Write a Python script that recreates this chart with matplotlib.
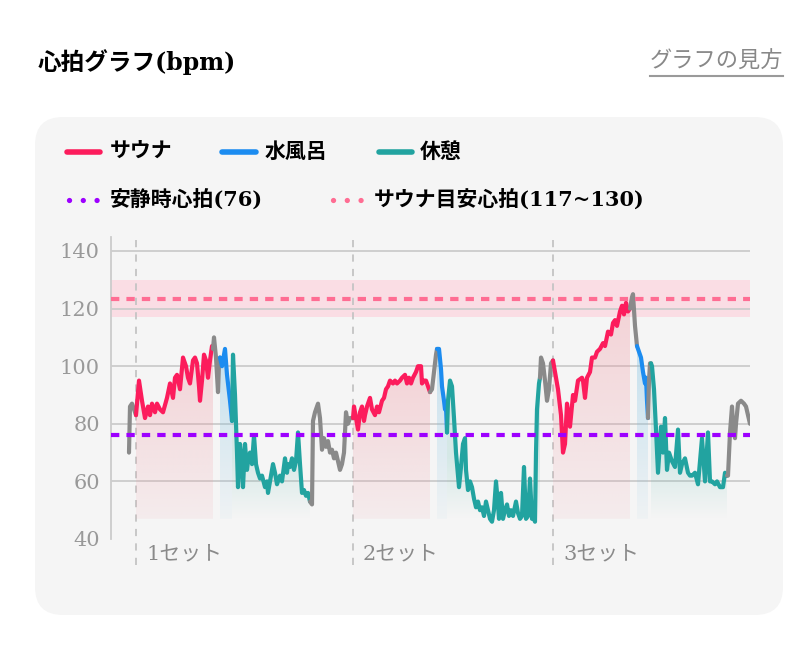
import numpy as np
import matplotlib.pyplot as plt
import matplotlib.transforms as mtransforms
from matplotlib.patches import FancyBboxPatch, PathPatch
from matplotlib.lines import Line2D
from matplotlib.colors import to_rgb

# 心拍データ (time = 経過時間の目盛り, bpm)
time = [18, 19, 21, 23, 25, 28, 31, 34, 37, 39, 41, 44, 46, 49, 52, 56, 59, 62, 64, 66,
        69, 72, 75, 77, 79, 82, 84, 86, 88, 89, 91, 93, 95, 97, 99, 101, 102, 103, 105, 107,
        108, 109, 111, 114, 116, 119, 121, 122, 124, 126, 127, 129, 131, 132, 134, 136, 137, 139, 141, 143,
        145, 147, 149, 151, 154, 156, 157, 159, 162, 164, 166, 169, 171, 174, 176, 177, 179, 181, 183, 185,
        187, 189, 191, 193, 195, 197, 199, 201, 202, 204, 207, 209, 211, 213, 215, 217, 219, 221, 223, 225,
        227, 229, 231, 233, 235, 237, 239, 242, 243, 245, 247, 249, 251, 253, 254, 256, 259, 261, 264, 266,
        268, 271, 273, 275, 277, 279, 282, 284, 286, 289, 291, 294, 296, 298, 300, 302, 305, 307, 310, 311,
        313, 315, 317, 319, 321, 323, 325, 326, 328, 330, 331, 333, 334, 335, 336, 337, 339, 341, 343, 345,
        347, 348, 350, 352, 354, 355, 357, 359, 361, 363, 365, 367, 369, 371, 373, 375, 377, 379, 381, 383,
        385, 387, 388, 390, 392, 394, 396, 398, 400, 402, 405, 407, 409, 411, 413, 415, 417, 419, 421, 423,
        424, 425, 426, 428, 429, 430, 432, 434, 436, 438, 440, 442, 447, 450, 452, 454, 456, 459, 462, 464,
        467, 471, 472, 474, 476, 479, 481, 484, 486, 489, 492, 494, 497, 500, 502, 504, 506, 509, 511, 513,
        515, 517, 519, 521, 522, 524, 526, 528, 530, 532, 534, 535, 536, 537, 538, 539, 540, 541, 543, 545,
        547, 550, 552, 554, 556, 558, 561, 564, 567, 569, 571, 574, 577, 579, 581, 584, 587, 591, 594, 597,
        599, 601, 604, 606, 609, 612, 614, 616, 617, 619, 621, 622, 624, 625, 627, 630, 633, 635, 637, 639]
bpm = [70, 86, 87, 85, 83, 95, 88, 82, 86, 83, 87, 84, 87, 85, 84, 89, 94, 89, 96, 97,
       92, 103, 100, 96, 94, 102, 103, 101, 93, 88, 95, 104, 102, 96, 102, 107, 106, 110, 103, 91,
       101, 103, 100, 106, 97, 88, 81, 104, 90, 70, 58, 73, 66, 58, 73, 64, 67, 70, 66, 76,
       66, 63, 61, 62, 58, 60, 56, 60, 66, 63, 59, 62, 60, 68, 63, 66, 65, 68, 64, 67,
       77, 66, 56, 57, 55, 56, 53, 52, 81, 84, 87, 82, 71, 75, 72, 74, 70, 71, 68, 70,
       67, 64, 66, 70, 84, 80, 82, 82, 86, 82, 78, 84, 86, 81, 83, 86, 89, 85, 83, 86,
       84, 88, 89, 92, 93, 95, 94, 95, 94, 95, 96, 97, 94, 96, 94, 96, 98, 100, 100, 94,
       95, 95, 93, 91, 92, 98, 104, 106, 106, 99, 93, 88, 85, 86, 77, 88, 95, 93, 82, 70,
       62, 58, 65, 73, 75, 64, 57, 60, 58, 54, 51, 53, 50, 51, 48, 53, 50, 47, 46, 50,
       60, 52, 47, 56, 47, 50, 52, 48, 50, 48, 53, 49, 47, 48, 65, 47, 48, 61, 47, 47,
       46, 70, 85, 94, 96, 103, 101, 95, 88, 92, 101, 102, 92, 83, 70, 73, 87, 79, 90, 88,
       95, 96, 95, 89, 96, 98, 103, 103, 105, 106, 108, 107, 112, 111, 115, 116, 114, 119, 121, 118,
       122, 119, 120, 124, 125, 114, 107, 105, 103, 98, 94, 96, 88, 82, 95, 101, 101, 100, 92, 78,
       63, 79, 70, 82, 64, 70, 67, 65, 78, 63, 66, 68, 63, 62, 62, 63, 59, 75, 60, 77,
       60, 60, 59, 60, 58, 58, 63, 62, 62, 77, 86, 80, 75, 80, 87, 88, 87, 86, 83, 80]

# 区間の切り替わり
phase_t = [18, 25, 102, 109, 121, 199, 242, 319, 326, 336, 429, 442, 519, 526, 537, 540, 616, 639]
phase_kind = ['other', 'sauna', 'other', 'water', 'rest', 'other', 'sauna', 'other', 'water',
              'rest', 'other', 'sauna', 'other', 'water', 'other', 'rest', 'other']

set_starts = [25, 242, 442]
set_labels = ['1セット', '2セット', '3セット']

rest_hr = 76
sauna_lo, sauna_hi = 117, 130

colors = {'sauna': '#fc1c5c', 'water': '#1c8cf0', 'rest': '#22a3a0', 'other': '#8a8a8a'}
fills = {'sauna': ('#f096a0', 0.10, 0.36, None),
         'water': ('#78bee1', 0.05, 0.38, None),
         'rest': ('#64beb4', 0.0, 0.22, 68)}

JP = ['DejaVu Serif', 'Noto Sans CJK JP']
W, H = 800, 664


def fx(px):
    return px / W


def fy(py):
    return 1 - py / H


def grad_fill(ax, t, y, color, a_bot, a_top, top=None, bottom=47):
    ymax = max(y)
    if top is None:
        top = ymax
    poly = ax.fill_between(t, y, bottom, facecolor='none', edgecolor='none')
    clip = PathPatch(poly.get_paths()[0], transform=ax.transData,
                     facecolor='none', edgecolor='none')
    ax.add_patch(clip)
    poly.remove()
    yy = np.linspace(bottom, ymax, 200)
    alpha = a_bot + (a_top - a_bot) * np.clip((yy - bottom) / (top - bottom), 0, 1)
    img = np.zeros((200, 1, 4))
    img[:, :, :3] = to_rgb(color)
    img[:, 0, 3] = alpha
    im = ax.imshow(img, aspect='auto', origin='lower', interpolation='bilinear',
                   extent=[min(t), max(t), bottom, ymax], zorder=1)
    im.set_clip_path(clip)


fig = plt.figure(figsize=(8, 6.64), dpi=100)

# 背景カード
card = FancyBboxPatch((fx(35), fy(615)), fx(783) - fx(35), fy(117) - fy(615),
                      boxstyle='round,pad=0,rounding_size=0.035', mutation_aspect=W / H,
                      transform=fig.transFigure, facecolor='#f5f5f5', edgecolor='none', zorder=-1)
fig.add_artist(card)

fig.text(fx(38), fy(62), '心拍グラフ(bpm)', fontsize=17, fontweight='bold', family=JP, va='center')
link = fig.text(fx(783), fy(62), 'グラフの見方', fontsize=16, color='#888888', family=JP,
                va='center', ha='right')
fig.canvas.draw()
bb = link.get_window_extent().transformed(fig.transFigure.inverted())
fig.add_artist(Line2D([bb.x0, bb.x1], [fy(76), fy(76)], transform=fig.transFigure,
                      color='#9a9a9a', lw=1.5))

# 凡例
legend_items = [(67, 100, 110, 152, colors['sauna'], 'サウナ', '-'),
                (222, 256, 265, 152, colors['water'], '水風呂', '-'),
                (379, 412, 420, 152, colors['rest'], '休憩', '-'),
                (69, 99, 110, 200, '#9d00ff', '安静時心拍(76)', ':'),
                (333, 363, 374, 200, '#ff6d93', 'サウナ目安心拍(117~130)', ':')]
for x0, x1, xt, yc, c, label, st in legend_items:
    if st == '-':
        fig.add_artist(Line2D([fx(x0), fx(x1)], [fy(yc), fy(yc)], transform=fig.transFigure,
                              color=c, lw=4, solid_capstyle='round'))
    else:
        fig.add_artist(Line2D([fx(x0), fx(x1)], [fy(yc), fy(yc)], transform=fig.transFigure,
                              color=c, lw=3.8, linestyle=(0, (0.01, 2.6)),
                              dash_capstyle='round'))
    fig.text(fx(xt), fy(yc), label, fontsize=15, fontweight='bold', family=JP, va='center')

ax = fig.add_axes([fx(111), fy(539), fx(750) - fx(111), fy(236.6) - fy(539)])
ax.set_facecolor('none')

ax.axhspan(sauna_lo, sauna_hi, color='#fadde4', lw=0, zorder=0.3)
for v in [60, 80, 100, 120, 140]:
    ax.axhline(v, color='#cccccc', lw=1.3, zorder=0.5)

for s in set_starts:
    ax.axvline(s, ymin=-0.086, ymax=1.0, color='#c4c4c4', lw=1.3, ls=(0, (4, 4)),
               clip_on=False, zorder=0.6)
trans = mtransforms.blended_transform_factory(ax.transData, ax.transAxes)
for s, lab in zip(set_starts, set_labels):
    ax.text(s + 10, -0.048, lab, transform=trans, fontsize=15, color='#8a8a8a',
            family=JP, va='center', ha='left')

t_arr = np.array(time)
hr_arr = np.array(bpm)
for i, kind in enumerate(phase_kind):
    m = (t_arr >= phase_t[i]) & (t_arr <= phase_t[i + 1])
    ts, hs = t_arr[m], hr_arr[m]
    if kind in fills:
        c, a0, a1, top = fills[kind]
        grad_fill(ax, ts, hs, c, a0, a1, top)
    ax.plot(ts, hs, color=colors[kind], lw=3, solid_joinstyle='round',
            solid_capstyle='round', zorder=3)

ax.axhline((sauna_lo + sauna_hi) / 2, color='#ff6d93', lw=3, ls=(0, (2, 1.7)), zorder=5)
ax.axhline(rest_hr, color='#9d00ff', lw=3, ls=(0, (2, 1.7)), zorder=5)

ax.set_xlim(0, 639)
ax.set_ylim(40, 145)
ax.set_xticks([])
ax.set_yticks([40, 60, 80, 100, 120, 140])
ax.tick_params(axis='y', length=0, pad=8, labelsize=15, labelcolor='#999999')
for lbl in ax.get_yticklabels():
    lbl.set_family('DejaVu Serif')
for side in ['top', 'right', 'bottom']:
    ax.spines[side].set_visible(False)
ax.spines['left'].set_color('#cccccc')
ax.spines['left'].set_linewidth(1.3)

plt.savefig('out.png', dpi=100, facecolor='white')
